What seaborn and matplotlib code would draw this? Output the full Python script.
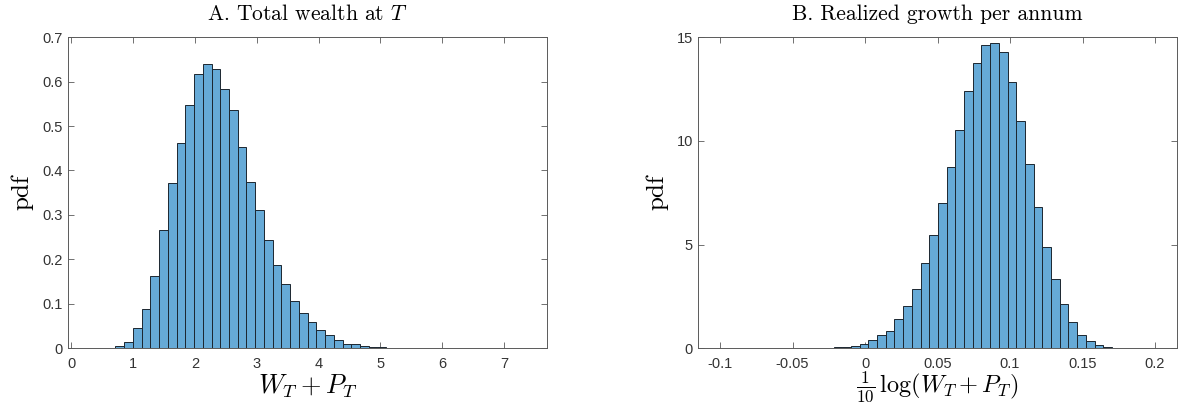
import numpy as np
import pandas as pd
import matplotlib
matplotlib.use('Agg')
import matplotlib.pyplot as plt
import seaborn as sns

# ── Data ───────────────────────────────────────────────────────────────────
# Panel A: pdf of total wealth at T, equal-width bins
wealth_start = 0.011
wealth_width = 0.1412
wealth_pdf = [0, 0, 0.0015, 0.0015, 0.002, 0.006, 0.015, 0.045, 0.089, 0.162,
              0.266, 0.373, 0.462, 0.547, 0.617, 0.640, 0.629, 0.584, 0.535, 0.452,
              0.374, 0.311, 0.244, 0.188, 0.144, 0.107, 0.080, 0.059, 0.041, 0.031,
              0.020, 0.011, 0.010, 0.0045, 0.003, 0.0025, 0.002, 0.0015, 0.0015, 0.0015,
              0, 0.0015, 0.0015, 0, 0, 0.0015, 0.0015, 0.0015, 0.0015, 0.0015,
              0.0015, 0.0015]

# Panel B: pdf of realized growth per annum
growth_start = -0.1057
growth_width = 0.006
growth_pdf = [0, 0, 0, 0.03, 0, 0.03, 0.03, 0.03, 0.03, 0.03,
              0.03, 0.03, 0.03, 0.035, 0.05, 0.08, 0.11, 0.23, 0.39, 0.63,
              0.84, 1.40, 2.03, 2.87, 4.11, 5.48, 7.00, 8.75, 10.53, 12.42,
              13.76, 14.60, 14.69, 14.27, 12.81, 10.94, 8.87, 6.79, 4.89, 3.35,
              2.16, 1.27, 0.66, 0.34, 0.16, 0.065, 0.035, 0.03, 0.03, 0.03,
              0.03]

titles = ['A. Total wealth at $T$', 'B. Realized growth per annum']
xlabels = ['$W_T + P_T$', r'$\frac{1}{10}\,\log(W_T + P_T)$']
xticks_a = [0, 1, 2, 3, 4, 5, 6, 7]
yticks_a = [0, 0.1, 0.2, 0.3, 0.4, 0.5, 0.6, 0.7]
xticks_b = [-0.1, -0.05, 0, 0.05, 0.1, 0.15, 0.2]
yticks_b = [0, 5, 10, 15]

# ── Style ──────────────────────────────────────────────────────────────────
sns.set_style('ticks')
plt.rcParams['font.family'] = ['Liberation Sans', 'DejaVu Sans']
plt.rcParams['mathtext.fontset'] = 'cm'
plt.rcParams['axes.unicode_minus'] = False

bar_color = '#66AAD7'
edge_color = '#1c2630'
axis_color = '#5a5a5a'
tick_color = '#333333'
serif = 'cmr10'

fig = plt.figure(figsize=(11.96, 4.04), dpi=100)
ax_a = fig.add_axes([0.0569, 0.1374, 0.4002, 0.7710])
ax_b = fig.add_axes([0.5839, 0.1374, 0.4000, 0.7710])


def draw_hist(ax, start, width, pdf):
    n = len(pdf)
    edges = start + width * np.arange(n + 1)
    df = pd.DataFrame({'x': (edges[:-1] + edges[1:]) / 2, 'w': pdf})
    sns.histplot(data=df, x='x', weights='w', bins=list(edges), stat='count', ax=ax,
                 color=bar_color, edgecolor=edge_color, linewidth=0.7, alpha=1.0)


draw_hist(ax_a, wealth_start, wealth_width, wealth_pdf)
draw_hist(ax_b, growth_start, growth_width, growth_pdf)

panels = [
    (ax_a, (-0.05, 7.69), (0, 0.7), xticks_a, yticks_a,
     [str(t) for t in xticks_a], ['0'] + [f'{t:g}' for t in yticks_a[1:]], 19, 1),
    (ax_b, (-0.115, 0.215), (0, 15), xticks_b, yticks_b,
     [f'{t:g}' for t in xticks_b], [str(t) for t in yticks_b], 17.5, -1),
]

for i, (ax, xl, yl, xt, yt, xtl, ytl, fs, lp) in enumerate(panels):
    ax.set_xlim(*xl)
    ax.set_ylim(*yl)
    ax.set_xticks(xt)
    ax.set_xticklabels(xtl)
    ax.set_yticks(yt)
    ax.set_yticklabels(ytl)
    ax.tick_params(direction='in', top=True, right=True, length=4, width=0.6,
                   colors=axis_color, labelcolor=tick_color, labelsize=10.5)
    ax.tick_params(axis='x', pad=6)
    ax.tick_params(axis='y', pad=4)
    for s in ax.spines.values():
        s.set_visible(True)
        s.set_color(axis_color)
        s.set_linewidth(0.7)
    ax.set_title(titles[i], fontfamily=serif, fontsize=15.5, pad=12, color='black')
    ax.set_xlabel(xlabels[i], fontsize=fs, labelpad=lp, color='black')
    ax.set_ylabel('pdf', fontfamily=serif, fontsize=18, labelpad=6, color='black')

fig.savefig('out.png', dpi=100)
plt.close(fig)
